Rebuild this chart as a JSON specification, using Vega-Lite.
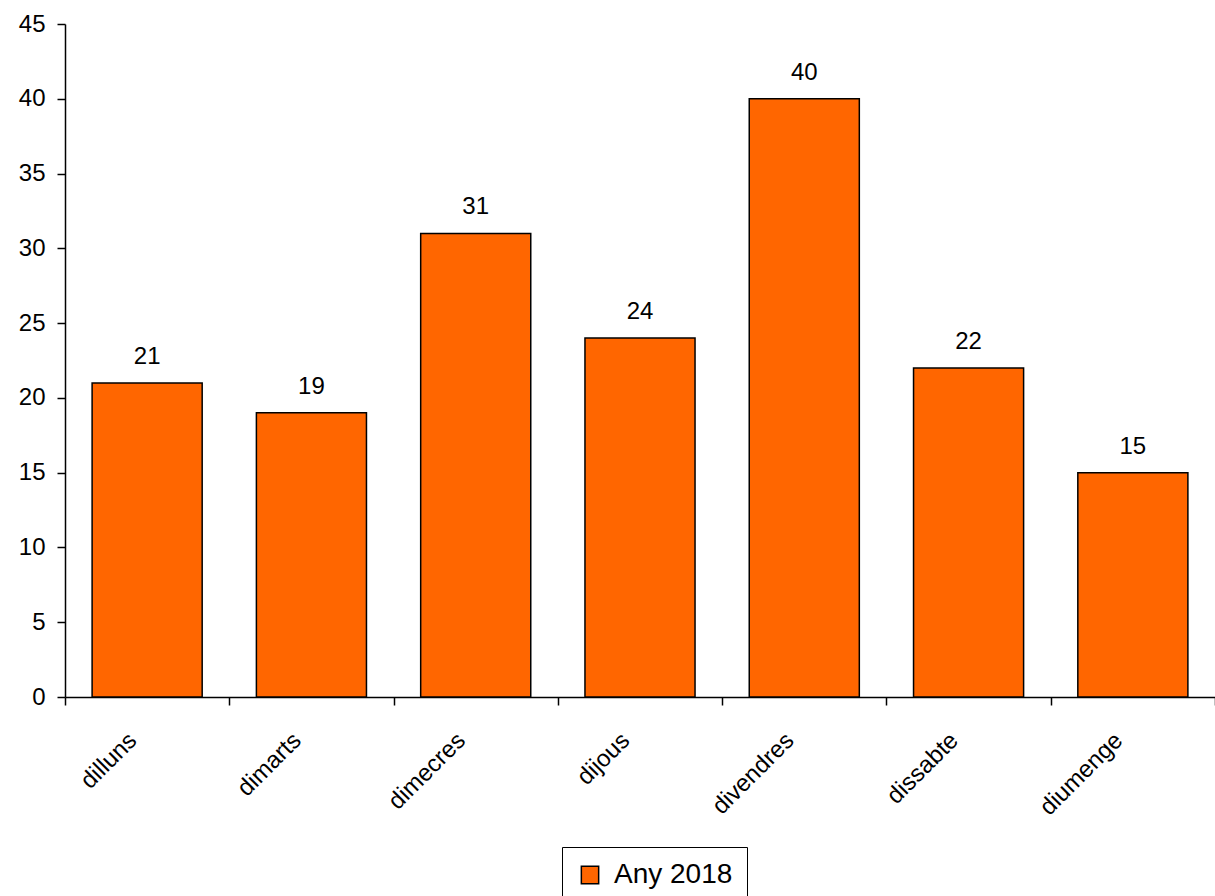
{
  "$schema": "https://vega.github.io/schema/vega-lite/v6.json",
  "autosize": {"type": "none"},
  "padding": {"left": 65, "top": 24, "right": 0, "bottom": 199},
  "width": 1150,
  "height": 673,
  "background": "white",
  "config": {
    "view": {"stroke": null},
    "font": "Liberation Sans",
    "axis": {"labelFont": "Liberation Sans", "labelColor": "black", "domainColor": "black", "tickColor": "black"}
  },
  "data": {
    "values": [
      {"dia": "dilluns", "valor": 21, "serie": "Any 2018"},
      {"dia": "dimarts", "valor": 19, "serie": "Any 2018"},
      {"dia": "dimecres", "valor": 31, "serie": "Any 2018"},
      {"dia": "dijous", "valor": 24, "serie": "Any 2018"},
      {"dia": "divendres", "valor": 40, "serie": "Any 2018"},
      {"dia": "dissabte", "valor": 22, "serie": "Any 2018"},
      {"dia": "diumenge", "valor": 15, "serie": "Any 2018"}
    ]
  },
  "encoding": {
    "x": {
      "field": "dia",
      "type": "nominal",
      "sort": null,
      "title": null,
      "scale": {"paddingInner": 0, "paddingOuter": 0},
      "axis": {
        "labelAngle": -45,
        "labelAlign": "right",
        "labelBaseline": "bottom",
        "labelFontSize": 24,
        "labelPadding": 40,
        "labelOffset": -6,
        "tickBand": "extent",
        "tickSize": 8,
        "tickWidth": 1.5,
        "domainWidth": 1.5,
        "grid": false
      }
    },
    "y": {
      "field": "valor",
      "type": "quantitative",
      "title": null,
      "scale": {"domain": [0, 45], "nice": false},
      "axis": {
        "values": [0, 5, 10, 15, 20, 25, 30, 35, 40, 45],
        "labelFontSize": 24,
        "labelPadding": 12,
        "tickSize": 8,
        "tickWidth": 1.5,
        "domainWidth": 1.5,
        "grid": false
      }
    }
  },
  "layer": [
    {
      "mark": {"type": "bar", "stroke": "black", "strokeWidth": 1.5, "width": {"band": 0.67}},
      "encoding": {
        "color": {
          "field": "serie",
          "type": "nominal",
          "scale": {"range": ["#FF6600"]},
          "legend": {
            "title": null,
            "orient": "none",
            "legendX": 497,
            "legendY": 823,
            "strokeColor": "black",
            "padding": 14,
            "symbolType": "square",
            "symbolSize": 300,
            "symbolStrokeColor": "black",
            "symbolStrokeWidth": 1.5,
            "symbolFillColor": "#FF6600",
            "labelFontSize": 28,
            "labelFont": "Liberation Sans",
            "labelColor": "black",
            "labelOffset": 10
          }
        }
      }
    },
    {
      "mark": {"type": "text", "fontSize": 24, "color": "black", "baseline": "alphabetic", "dy": -19},
      "encoding": {"text": {"field": "valor", "type": "quantitative"}}
    }
  ]
}
